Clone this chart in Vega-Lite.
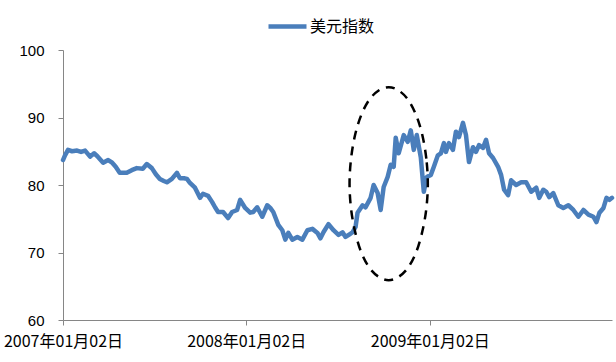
{
  "$schema": "https://vega.github.io/schema/vega-lite/v6.json",
  "width": 549,
  "height": 270,
  "autosize": {"type": "none"},
  "padding": {"left": 63, "top": 50, "right": 4, "bottom": 42},
  "background": "white",
  "config": {
    "view": {"stroke": null},
    "axis": {"grid": false, "domainColor": "#868686", "tickColor": "#868686", "labelColor": "#000000", "title": null}
  },
  "datasets": {
    "usd": [
      {"date": "2007-01-02", "v": 83.7},
      {"date": "2007-01-06", "v": 84.4},
      {"date": "2007-01-12", "v": 85.2},
      {"date": "2007-01-20", "v": 85.0},
      {"date": "2007-01-30", "v": 85.1},
      {"date": "2007-02-07", "v": 84.9},
      {"date": "2007-02-15", "v": 85.1},
      {"date": "2007-02-25", "v": 84.2},
      {"date": "2007-03-05", "v": 84.7},
      {"date": "2007-03-11", "v": 84.3},
      {"date": "2007-03-23", "v": 83.3},
      {"date": "2007-04-02", "v": 83.7},
      {"date": "2007-04-10", "v": 83.3},
      {"date": "2007-04-17", "v": 82.7},
      {"date": "2007-04-25", "v": 81.8},
      {"date": "2007-05-09", "v": 81.8},
      {"date": "2007-05-19", "v": 82.2},
      {"date": "2007-05-29", "v": 82.5},
      {"date": "2007-06-10", "v": 82.4},
      {"date": "2007-06-18", "v": 83.1},
      {"date": "2007-06-28", "v": 82.5},
      {"date": "2007-07-06", "v": 81.6},
      {"date": "2007-07-14", "v": 80.9},
      {"date": "2007-07-22", "v": 80.6},
      {"date": "2007-07-28", "v": 80.4},
      {"date": "2007-08-07", "v": 80.9},
      {"date": "2007-08-17", "v": 81.8},
      {"date": "2007-08-23", "v": 81.0},
      {"date": "2007-08-31", "v": 81.0},
      {"date": "2007-09-06", "v": 80.9},
      {"date": "2007-09-12", "v": 80.3},
      {"date": "2007-09-22", "v": 79.6},
      {"date": "2007-10-02", "v": 78.1},
      {"date": "2007-10-08", "v": 78.7},
      {"date": "2007-10-18", "v": 78.4},
      {"date": "2007-10-26", "v": 77.5},
      {"date": "2007-11-01", "v": 76.7},
      {"date": "2007-11-07", "v": 76.0},
      {"date": "2007-11-17", "v": 76.0},
      {"date": "2007-11-27", "v": 75.1},
      {"date": "2007-12-05", "v": 76.0},
      {"date": "2007-12-15", "v": 76.3},
      {"date": "2007-12-21", "v": 77.8},
      {"date": "2007-12-31", "v": 76.6},
      {"date": "2008-01-10", "v": 75.9},
      {"date": "2008-01-16", "v": 76.0},
      {"date": "2008-01-24", "v": 76.7},
      {"date": "2008-02-03", "v": 75.3},
      {"date": "2008-02-13", "v": 77.0},
      {"date": "2008-02-19", "v": 76.6},
      {"date": "2008-02-25", "v": 76.0},
      {"date": "2008-03-06", "v": 74.1},
      {"date": "2008-03-14", "v": 73.3},
      {"date": "2008-03-20", "v": 71.9},
      {"date": "2008-03-26", "v": 72.9},
      {"date": "2008-04-03", "v": 71.9},
      {"date": "2008-04-13", "v": 72.3},
      {"date": "2008-04-23", "v": 71.9},
      {"date": "2008-05-03", "v": 73.3},
      {"date": "2008-05-13", "v": 73.5},
      {"date": "2008-05-23", "v": 72.9},
      {"date": "2008-05-29", "v": 72.1},
      {"date": "2008-06-04", "v": 73.0},
      {"date": "2008-06-14", "v": 74.2},
      {"date": "2008-06-24", "v": 73.3},
      {"date": "2008-07-04", "v": 72.6},
      {"date": "2008-07-12", "v": 73.0},
      {"date": "2008-07-18", "v": 72.3},
      {"date": "2008-07-26", "v": 72.7},
      {"date": "2008-08-01", "v": 73.0},
      {"date": "2008-08-07", "v": 73.8},
      {"date": "2008-08-11", "v": 75.9},
      {"date": "2008-08-21", "v": 77.0},
      {"date": "2008-08-27", "v": 76.7},
      {"date": "2008-09-06", "v": 78.1},
      {"date": "2008-09-12", "v": 80.0},
      {"date": "2008-09-20", "v": 78.8},
      {"date": "2008-09-26", "v": 76.3},
      {"date": "2008-10-02", "v": 79.7},
      {"date": "2008-10-10", "v": 81.2},
      {"date": "2008-10-16", "v": 83.0},
      {"date": "2008-10-22", "v": 82.7},
      {"date": "2008-10-26", "v": 87.0},
      {"date": "2008-11-01", "v": 84.7},
      {"date": "2008-11-11", "v": 87.4},
      {"date": "2008-11-19", "v": 86.4},
      {"date": "2008-11-25", "v": 88.1},
      {"date": "2008-12-01", "v": 85.2},
      {"date": "2008-12-07", "v": 87.4},
      {"date": "2008-12-15", "v": 84.1},
      {"date": "2008-12-21", "v": 79.0},
      {"date": "2008-12-27", "v": 81.2},
      {"date": "2009-01-04", "v": 81.5},
      {"date": "2009-01-10", "v": 82.7},
      {"date": "2009-01-18", "v": 84.4},
      {"date": "2009-01-24", "v": 84.7},
      {"date": "2009-01-30", "v": 86.2},
      {"date": "2009-02-03", "v": 84.9},
      {"date": "2009-02-09", "v": 86.2},
      {"date": "2009-02-17", "v": 85.2},
      {"date": "2009-02-23", "v": 87.9},
      {"date": "2009-03-01", "v": 87.1},
      {"date": "2009-03-09", "v": 89.2},
      {"date": "2009-03-15", "v": 87.4},
      {"date": "2009-03-21", "v": 83.4},
      {"date": "2009-03-29", "v": 85.6},
      {"date": "2009-04-04", "v": 84.9},
      {"date": "2009-04-10", "v": 85.9},
      {"date": "2009-04-18", "v": 85.5},
      {"date": "2009-04-24", "v": 86.7},
      {"date": "2009-04-30", "v": 84.7},
      {"date": "2009-05-08", "v": 84.0},
      {"date": "2009-05-18", "v": 82.7},
      {"date": "2009-05-24", "v": 81.5},
      {"date": "2009-05-30", "v": 79.3},
      {"date": "2009-06-07", "v": 78.5},
      {"date": "2009-06-13", "v": 80.7},
      {"date": "2009-06-23", "v": 80.0},
      {"date": "2009-07-03", "v": 80.4},
      {"date": "2009-07-13", "v": 80.4},
      {"date": "2009-07-23", "v": 79.0},
      {"date": "2009-08-02", "v": 79.6},
      {"date": "2009-08-08", "v": 78.1},
      {"date": "2009-08-16", "v": 79.3},
      {"date": "2009-08-22", "v": 79.0},
      {"date": "2009-08-28", "v": 78.2},
      {"date": "2009-09-05", "v": 78.8},
      {"date": "2009-09-15", "v": 77.0},
      {"date": "2009-09-25", "v": 76.6},
      {"date": "2009-10-05", "v": 77.0},
      {"date": "2009-10-15", "v": 76.3},
      {"date": "2009-10-25", "v": 75.3},
      {"date": "2009-11-04", "v": 76.3},
      {"date": "2009-11-14", "v": 75.6},
      {"date": "2009-11-24", "v": 75.3},
      {"date": "2009-11-30", "v": 74.5},
      {"date": "2009-12-06", "v": 75.9},
      {"date": "2009-12-14", "v": 76.6},
      {"date": "2009-12-20", "v": 78.1},
      {"date": "2009-12-26", "v": 77.8},
      {"date": "2009-12-31", "v": 78.1}
    ],
    "ellipse": [
      {"i": 0, "date": "2008-12-29", "v": 80.2},
      {"i": 1, "date": "2008-12-26", "v": 83.9},
      {"i": 2, "date": "2008-12-18", "v": 87.4},
      {"i": 3, "date": "2008-12-06", "v": 90.3},
      {"i": 4, "date": "2008-11-20", "v": 92.6},
      {"i": 5, "date": "2008-11-01", "v": 94.0},
      {"i": 6, "date": "2008-10-12", "v": 94.5},
      {"i": 7, "date": "2008-09-22", "v": 94.0},
      {"i": 8, "date": "2008-09-03", "v": 92.6},
      {"i": 9, "date": "2008-08-18", "v": 90.3},
      {"i": 10, "date": "2008-08-06", "v": 87.4},
      {"i": 11, "date": "2008-07-29", "v": 83.9},
      {"i": 12, "date": "2008-07-26", "v": 80.2},
      {"i": 13, "date": "2008-07-29", "v": 76.5},
      {"i": 14, "date": "2008-08-06", "v": 73.1},
      {"i": 15, "date": "2008-08-18", "v": 70.1},
      {"i": 16, "date": "2008-09-03", "v": 67.8},
      {"i": 17, "date": "2008-09-22", "v": 66.4},
      {"i": 18, "date": "2008-10-12", "v": 65.9},
      {"i": 19, "date": "2008-11-01", "v": 66.4},
      {"i": 20, "date": "2008-11-20", "v": 67.8},
      {"i": 21, "date": "2008-12-06", "v": 70.1},
      {"i": 22, "date": "2008-12-18", "v": 73.1},
      {"i": 23, "date": "2008-12-26", "v": 76.5}
    ]
  },
  "encoding": {
    "x": {
      "field": "date",
      "type": "temporal",
      "scale": {"type": "utc", "domain": [{"year": 2007, "month": 1, "date": 2, "utc": true}, {"year": 2009, "month": 12, "date": 31, "utc": true}], "nice": false},
      "axis": {
        "values": [{"year": 2007, "month": 1, "date": 2, "utc": true}, {"year": 2008, "month": 1, "date": 2, "utc": true}, {"year": 2009, "month": 1, "date": 2, "utc": true}],
        "labelExpr": "utcFormat(datum.value, '%Y年%m月%d日')",
        "labelFont": "Noto Sans CJK SC",
        "labelFontSize": 16,
        "labelPadding": 8,
        "tickSize": 5,
        "labelFlush": false,
        "labelOverlap": false,
        "labelBound": false
      }
    },
    "y": {
      "field": "v",
      "type": "quantitative",
      "scale": {"domain": [60, 100], "nice": false, "zero": false},
      "axis": {
        "values": [60, 70, 80, 90, 100],
        "labelFont": "Liberation Sans",
        "labelFontSize": 15,
        "labelPadding": 14,
        "tickSize": 5
      }
    }
  },
  "layer": [
    {
      "data": {"name": "usd"},
      "mark": {"type": "line", "strokeWidth": 4.5, "strokeJoin": "round", "strokeCap": "round"},
      "encoding": {
        "color": {
          "datum": "美元指数",
          "scale": {"range": ["#4a7ebb"]},
          "legend": {
            "orient": "none",
            "legendX": 203,
            "legendY": -45,
            "title": null,
            "symbolType": "stroke",
            "symbolSize": 1444,
            "symbolStrokeWidth": 4.5,
            "labelFont": "Noto Sans CJK SC",
            "labelFontSize": 16,
            "labelColor": "#000000",
            "labelOffset": 1
          }
        }
      }
    },
    {
      "data": {"name": "ellipse"},
      "mark": {"type": "line", "interpolate": "cardinal-closed", "stroke": "#000000", "strokeWidth": 2.5, "strokeDash": [9, 7]},
      "encoding": {
        "order": {"field": "i", "type": "quantitative"}
      }
    }
  ]
}
